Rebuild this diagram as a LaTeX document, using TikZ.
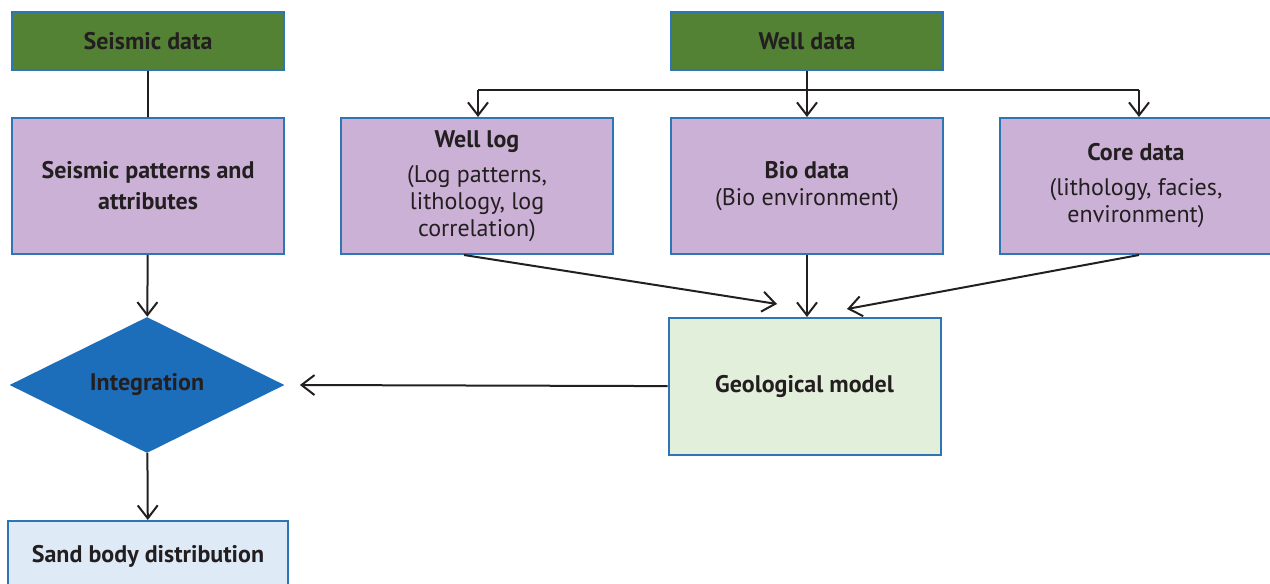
\documentclass[tikz,border=0pt]{standalone}
\usepackage{fontspec}
\setmainfont{PT Sans}
\usetikzlibrary{arrows.meta,shapes.geometric}
\definecolor{boxline}{HTML}{2E75B6}
\definecolor{datagreen}{HTML}{548235}
\definecolor{lilac}{HTML}{CCB1D7}
\definecolor{palegreen}{HTML}{E2EFDA}
\definecolor{paleblue}{HTML}{DEEAF6}
\definecolor{diamblue}{HTML}{1C6EBA}
\definecolor{ink}{HTML}{231F20}

\begin{document}
\begin{tikzpicture}[x=0.5pt,y=-0.5pt,
  font=\fontsize{12}{13.5}\selectfont, text=ink,
  box/.style={draw=boxline,line width=1pt,minimum width=136pt,align=center,inner sep=2pt},
  srcbox/.style={box,fill=datagreen,minimum height=29pt,font=\fontsize{12}{13.5}\selectfont\bfseries},
  infobox/.style={box,fill=lilac,minimum height=68pt},
  arr/.style={draw=ink,line width=1pt,-{Straight Barb[length=6.5pt,width=10pt,line width=1pt]}},
  plain/.style={draw=ink,line width=1pt}]
\useasboundingbox (0,0) rectangle (1270,584);

\node (seis) at (148,41) [srcbox] {Seismic data};
\node (well) at (807,41) [srcbox] {Well data};

\node (pat) at (148,186) [infobox,font=\fontsize{12}{13.5}\selectfont\bfseries] {Seismic patterns and\\[2pt]attributes};
\node (log) at (477,186) [infobox] {\textbf{Well log}\\[4pt](Log patterns,\\lithology, log\\correlation)};
\node (bio) at (807,186) [infobox] {\textbf{Bio data}\\(Bio environment)};
\node (core) at (1136,186) [infobox] {\textbf{Core data}\\[4pt](lithology, facies,\\environment)};

\node (geo) at (804.5,386.5) [box,fill=palegreen,minimum height=68.5pt,font=\fontsize{12}{13.5}\selectfont\bfseries] {Geological model};
\node (integ) at (147,385) [diamond,fill=diamblue,minimum width=137.5pt,minimum height=68pt,aspect=2,inner sep=0pt] {};
\node at (integ) [font=\fontsize{12}{13.5}\selectfont\bfseries] {Integration};
\node (sand) at (148,556) [box,fill=paleblue,minimum width=140pt,minimum height=35pt,font=\fontsize{12}{13.5}\selectfont\bfseries] {Sand body distribution};

\coordinate (hub) at (807,90);
\coordinate (hubl) at (478,90);
\coordinate (hubr) at (1139,90);

\draw[plain] (seis) -- (pat);
\draw[plain] (well) -- (hub);
\draw[plain] (hubl) -- (hubr);
\draw[arr] (hubl) -- (log.north -| hubl);
\draw[arr] (hub) -- (bio);
\draw[arr] (hubr) -- (core.north -| hubr);

\draw[arr] (pat) -- (integ);
\draw[arr] (integ) -- (sand);
\draw[arr] (geo) -- ([xshift=7.5pt]integ.east);

\draw[arr] ([xshift=-6.5pt]log.south) -- ([xshift=-13.75pt,yshift=6.5pt]geo.north);
\draw[arr] (bio) -- ([xshift=1.25pt]geo.north);
\draw[arr] ([xshift=1.5pt]core.south) -- ([xshift=21.25pt,yshift=4pt]geo.north);
\end{tikzpicture}
\end{document}
